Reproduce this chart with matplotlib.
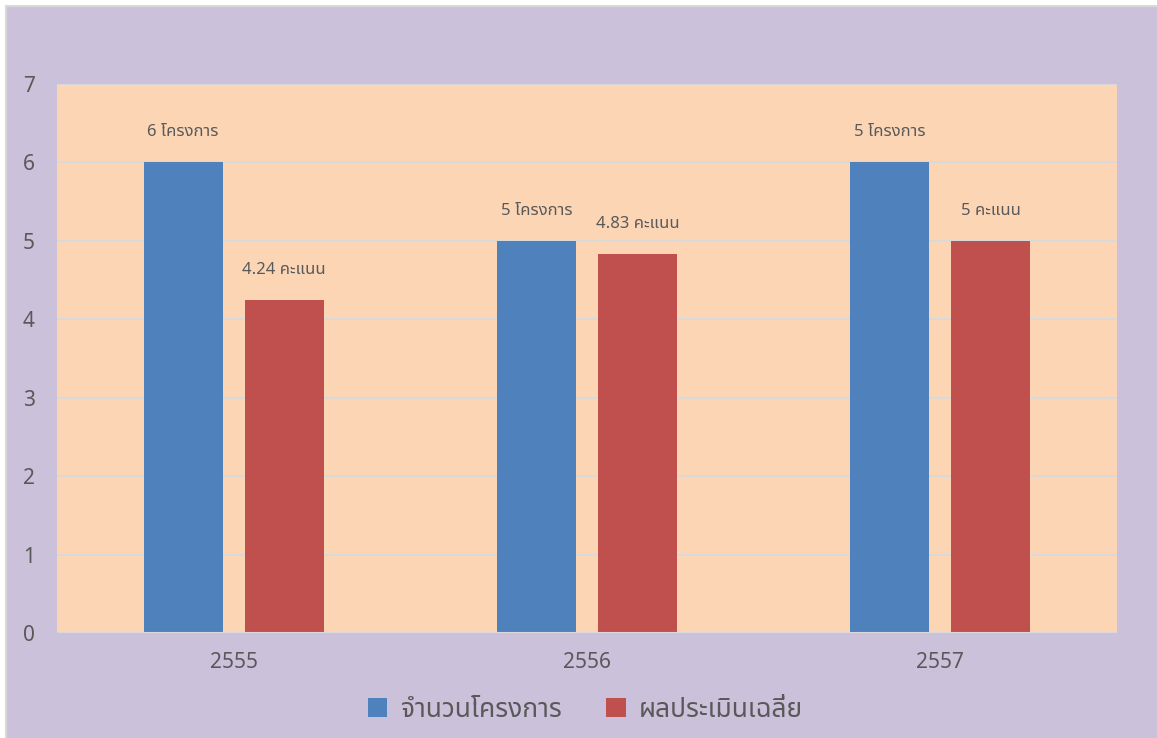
import matplotlib
matplotlib.use("Agg")
import matplotlib.pyplot as plt
from matplotlib import font_manager
from matplotlib.patches import Rectangle
from matplotlib.ft2font import FT2Font
import numpy as np

# ---- data ----
years = ["2555", "2556", "2557"]
projects = [6, 5, 6]
scores = [4.24, 4.83, 5]
project_labels = ["6 โครงการ", "5 โครงการ", "5 โครงการ"]
score_labels = ["4.24 คะแนน", "4.83 คะแนน", "5 คะแนน"]
series_names = ["จำนวนโครงการ", "ผลประเมินเฉลี่ย"]
yticks = [0, 1, 2, 3, 4, 5, 6, 7]

# ---- find a font with Thai glyphs ----
thai_family = None
preferred = ["Tahoma", "Leelawadee UI", "Noto Sans Thai", "Noto Sans Thai UI", "Loma",
             "Garuda", "Sarabun", "TH Sarabun New", "Kinnari", "Norasi", "Umpush",
             "Waree", "Laksaman", "Tlwg Typo"]
cands = []
for f in font_manager.fontManager.ttflist:
    try:
        ft = FT2Font(f.fname)
        cmap = ft.get_charmap()
        if 0x0E42 in cmap and 0x0E04 in cmap:
            cands.append(f.name)
    except Exception:
        pass
for p in preferred:
    if p in cands:
        thai_family = p
        break
if thai_family is None and cands:
    thai_family = cands[0]
families = ([thai_family] if thai_family else []) + ["DejaVu Sans"]
plt.rcParams["font.family"] = families

W, H = 1157, 738
fig = plt.figure(figsize=(W / 100, H / 100), dpi=100, facecolor="white")
# purple chart background with thin grey border at top/left (right/bottom run off the edge)
bg = Rectangle((6 / W, -0.05), 1.1, 1 - 6 / H + 0.05, transform=fig.transFigure,
               facecolor="#CCC1DA", edgecolor="#D9D9D9", linewidth=1.5, zorder=-10)
fig.patches.append(bg)

ax = fig.add_axes([57 / W, (H - 633) / H, (1117 - 57) / W, (633 - 84) / H])
ax.set_zorder(1)
ax.set_facecolor("#FCD5B5")
for s in ax.spines.values():
    s.set_visible(False)

x = np.arange(len(years))
bw = 0.224
gap = 0.062
off = (bw + gap) / 2
blue = "#4F81BD"
red = "#C0504D"
ax.bar(x - off, projects, bw, color=blue, label=series_names[0], zorder=3)
ax.bar(x + off, scores, bw, color=red, label=series_names[1], zorder=3)

txtc = "#595959"
for i in range(len(years)):
    ax.annotate(project_labels[i], (x[i] - off, projects[i]), xytext=(0, 16),
                textcoords="offset points", ha="center", va="bottom", fontsize=12, color=txtc)
    ax.annotate(score_labels[i], (x[i] + off, scores[i]), xytext=(0, 16),
                textcoords="offset points", ha="center", va="bottom", fontsize=12, color=txtc)

ax.set_xlim(-0.5, 2.5)
ax.set_ylim(0, 7)
ax.set_yticks(yticks)
ax.set_xticks(x)
ax.set_xticklabels(years)
ax.tick_params(axis="both", length=0, labelsize=15, colors=txtc)
ax.tick_params(axis="y", pad=16)
ax.tick_params(axis="x", pad=14)
ax.grid(axis="y", color="#D9D9D9", linewidth=1.5, zorder=0)
ax.set_axisbelow(True)
ax.axhline(0, color="#D9D9D9", linewidth=1.5, zorder=4)

leg = fig.legend(loc="center", bbox_to_anchor=(0.506, (H - 710) / H), ncol=2, frameon=False,
                 fontsize=19, labelcolor=txtc, handlelength=0.75, handleheight=0.75,
                 columnspacing=1.7, handletextpad=0.5)

fig.savefig("out.png", dpi=100, facecolor=fig.get_facecolor())
